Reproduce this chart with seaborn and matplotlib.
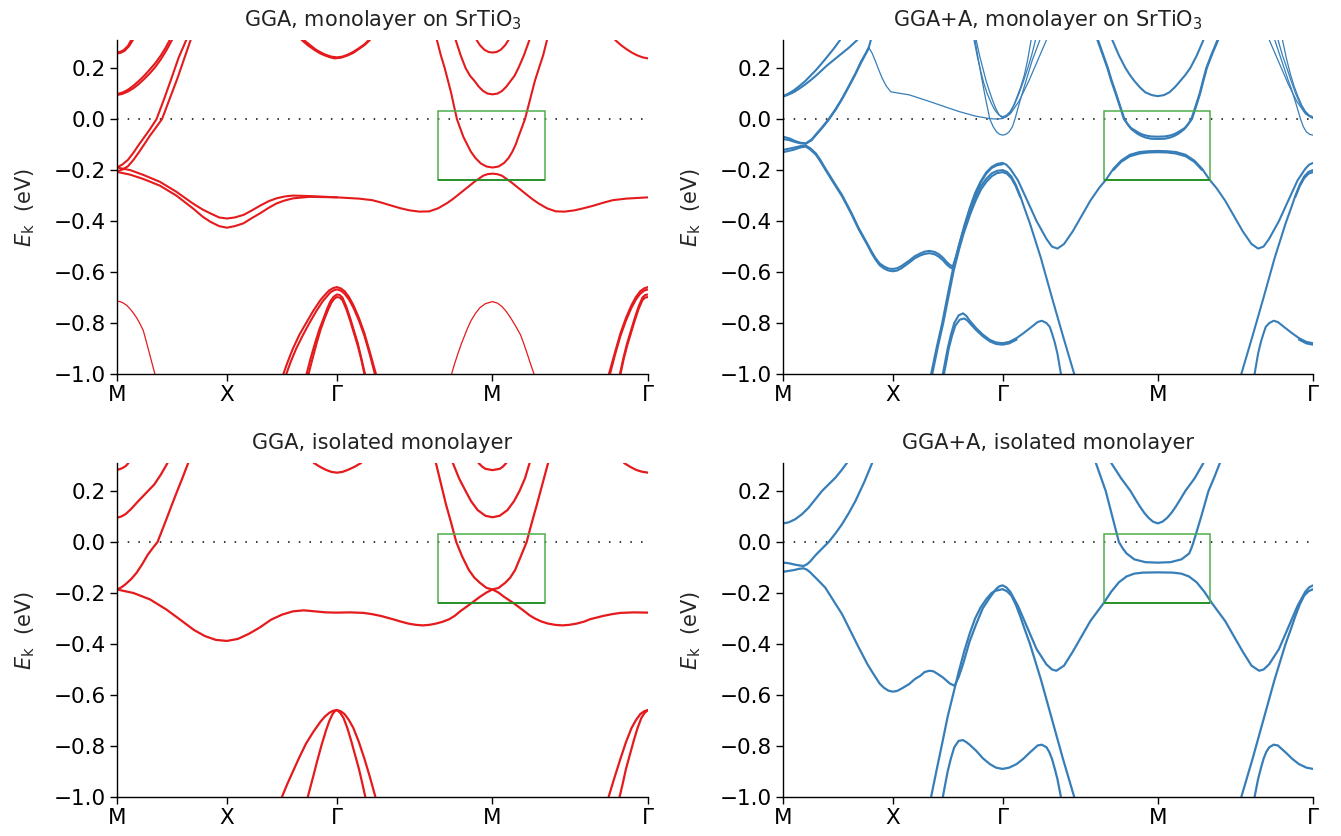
import matplotlib
matplotlib.use("Agg")
import matplotlib.pyplot as plt
from matplotlib.patches import Rectangle
from matplotlib.ticker import FuncFormatter
import pandas as pd
import seaborn as sns

sns.set_theme(style="ticks")
plt.rcParams['font.family'] = ['DejaVu Sans']
plt.rcParams['mathtext.fontset'] = 'dejavusans'
plt.rcParams['axes.edgecolor'] = 'black'
plt.rcParams['xtick.color'] = 'black'
plt.rcParams['ytick.color'] = 'black'
plt.rcParams['text.color'] = '#222222'

# k path: M - X - Gamma - M - Gamma
K_TICKS = [0.0, 1.0, 2.0, 3.414, 4.828]
K_LABELS = ['M', 'X', 'Γ', 'M', 'Γ']
E_TICKS = [-1.0, -0.8, -0.6, -0.4, -0.2, 0.0, 0.2]
BOX_K = (2.92, 3.89)
BOX_E = (-0.24, 0.03)

TITLES = ['GGA, monolayer on SrTiO$_3$', 'GGA+A, monolayer on SrTiO$_3$',
          'GGA, isolated monolayer', 'GGA+A, isolated monolayer']

# ---------------- GGA, monolayer on SrTiO3 (k, E) ----------------
a_val1 = [(0.0, -0.19), (0.12, -0.2), (0.24, -0.219), (0.39, -0.246), (0.54, -0.285), (0.69, -0.331),
          (0.78, -0.355), (0.85, -0.37), (0.93, -0.386), (1.0, -0.39), (1.07, -0.386), (1.15, -0.376),
          (1.22, -0.36), (1.3, -0.34), (1.38, -0.322), (1.45, -0.311), (1.52, -0.304), (1.6, -0.3),
          (1.75, -0.302), (2.0, -0.307), (2.2, -0.312), (2.32, -0.318), (2.4, -0.327), (2.5, -0.34),
          (2.58, -0.35), (2.66, -0.358), (2.75, -0.363), (2.84, -0.362), (2.92, -0.35), (3.0, -0.33),
          (3.05, -0.315), (3.1, -0.298), (3.175, -0.272), (3.25, -0.246), (3.33, -0.222), (3.37, -0.216),
          (3.414, -0.214), (3.458, -0.216), (3.5, -0.222), (3.58, -0.246), (3.655, -0.272), (3.73, -0.298),
          (3.78, -0.315), (3.83, -0.33), (3.91, -0.35), (3.99, -0.362), (4.07, -0.363), (4.16, -0.358),
          (4.24, -0.35), (4.33, -0.34), (4.43, -0.327), (4.51, -0.318), (4.63, -0.312), (4.828, -0.307)]
a_val2 = [(0.0, -0.207), (0.12, -0.218), (0.24, -0.235), (0.39, -0.261), (0.54, -0.3), (0.69, -0.35),
          (0.78, -0.383), (0.85, -0.403), (0.93, -0.42), (1.0, -0.426), (1.07, -0.42), (1.15, -0.409),
          (1.22, -0.39), (1.3, -0.37), (1.38, -0.348), (1.45, -0.331), (1.52, -0.32), (1.6, -0.311),
          (1.75, -0.305), (2.0, -0.307)]
a_c1 = [(0.0, -0.19), (0.05, -0.178), (0.1, -0.16), (0.15, -0.132), (0.2, -0.1), (0.25, -0.07),
        (0.3, -0.04), (0.36, 0.0), (0.43, 0.08), (0.5, 0.165), (0.56, 0.24), (0.63, 0.31)]
a_c2 = [(0.0, -0.205), (0.05, -0.198), (0.1, -0.185), (0.15, -0.16), (0.2, -0.13), (0.25, -0.098),
        (0.3, -0.065), (0.36, -0.03), (0.41, 0.0), (0.48, 0.08), (0.55, 0.16), (0.61, 0.235), (0.67, 0.31)]
a_p1 = [(0.0, 0.098), (0.05, 0.104), (0.1, 0.115), (0.15, 0.131), (0.2, 0.15), (0.25, 0.171),
        (0.3, 0.195), (0.35, 0.22), (0.4, 0.25), (0.44, 0.278), (0.48, 0.31)]
a_p2 = [(0.0, 0.094), (0.05, 0.099), (0.1, 0.108), (0.15, 0.121), (0.2, 0.138), (0.25, 0.158),
        (0.3, 0.18), (0.35, 0.205), (0.4, 0.235), (0.45, 0.27), (0.5, 0.31)]
a_p3 = [(0.0, 0.261), (0.03, 0.264), (0.06, 0.27), (0.1, 0.287), (0.13, 0.31)]
a_p4 = [(0.0, 0.257), (0.035, 0.26), (0.07, 0.268), (0.11, 0.286), (0.145, 0.31)]
a_g1 = [(1.68, 0.31), (1.74, 0.288), (1.8, 0.27), (1.85, 0.257), (1.9, 0.248), (1.94, 0.242),
        (1.98, 0.238), (2.04, 0.241), (2.1, 0.25), (2.15, 0.26), (2.2, 0.275), (2.25, 0.29), (2.3, 0.31)]
a_g2 = [(1.7, 0.31), (1.76, 0.289), (1.81, 0.272), (1.86, 0.26), (1.9, 0.252), (1.95, 0.245),
        (2.0, 0.242), (2.05, 0.245), (2.1, 0.253), (2.15, 0.264), (2.2, 0.278), (2.25, 0.293), (2.29, 0.31)]
a_g3 = [(4.53, 0.31), (4.58, 0.291), (4.63, 0.275), (4.68, 0.261), (4.73, 0.25), (4.78, 0.242),
        (4.828, 0.238)]
a_mo = [(2.909, 0.31), (2.945, 0.25), (2.98, 0.2), (3.01, 0.15), (3.04, 0.1), (3.065, 0.05), (3.091, 0.0),
        (3.12, -0.035), (3.15, -0.07), (3.185, -0.1), (3.218, -0.128), (3.26, -0.153), (3.308, -0.174),
        (3.36, -0.186), (3.414, -0.19), (3.47, -0.186), (3.52, -0.172), (3.56, -0.153), (3.595, -0.128),
        (3.625, -0.1), (3.65, -0.07), (3.68, -0.035), (3.71, 0.0), (3.74, 0.05), (3.77, 0.1), (3.8, 0.15),
        (3.837, 0.2), (3.875, 0.25), (3.91, 0.31)]
a_mm = [(3.08, 0.31), (3.125, 0.25), (3.17, 0.2), (3.21, 0.17), (3.25, 0.15), (3.29, 0.127), (3.33, 0.11),
        (3.37, 0.1), (3.414, 0.097), (3.46, 0.1), (3.5, 0.11), (3.54, 0.127), (3.58, 0.15), (3.615, 0.17),
        (3.65, 0.2), (3.7, 0.25), (3.75, 0.31)]
a_mt = [(3.27, 0.31), (3.3, 0.29), (3.34, 0.272), (3.38, 0.263), (3.414, 0.261), (3.45, 0.263),
        (3.49, 0.272), (3.53, 0.29), (3.56, 0.31)]
a_gv1 = [(1.513, -1.0), (1.55, -0.955), (1.6, -0.9), (1.66, -0.845), (1.72, -0.8), (1.785, -0.752),
         (1.85, -0.71), (1.89, -0.69), (1.93, -0.672), (1.965, -0.663), (2.0, -0.659), (2.035, -0.664),
         (2.07, -0.675), (2.11, -0.698), (2.15, -0.73), (2.2, -0.78), (2.25, -0.84), (2.3, -0.915),
         (2.355, -1.0)]
a_gv1b = [(1.54, -1.0), (1.58, -0.952), (1.63, -0.9), (1.69, -0.848), (1.75, -0.8), (1.81, -0.755),
          (1.87, -0.715), (1.91, -0.695), (1.94, -0.68), (1.97, -0.672), (2.0, -0.668), (2.035, -0.673),
          (2.07, -0.685), (2.11, -0.708), (2.15, -0.74), (2.2, -0.79), (2.25, -0.85), (2.3, -0.925),
          (2.345, -1.0)]
a_gv2 = [(1.724, -1.0), (1.76, -0.94), (1.8, -0.88), (1.84, -0.825), (1.88, -0.78), (1.91, -0.745),
         (1.94, -0.715), (1.97, -0.697), (2.0, -0.688), (2.025, -0.69), (2.05, -0.7), (2.085, -0.735),
         (2.12, -0.78), (2.155, -0.83), (2.19, -0.88), (2.22, -0.935), (2.255, -1.0)]
a_gv2b = [(1.742, -1.0), (1.778, -0.94), (1.815, -0.88), (1.85, -0.828), (1.89, -0.78), (1.92, -0.748),
          (1.95, -0.72), (1.975, -0.705), (2.0, -0.698), (2.025, -0.7), (2.05, -0.71), (2.085, -0.745),
          (2.12, -0.79), (2.155, -0.84), (2.19, -0.89), (2.22, -0.94), (2.25, -1.0)]
a_ge1 = [(4.473, -1.0), (4.528, -0.915), (4.578, -0.84), (4.628, -0.78), (4.678, -0.73), (4.718, -0.698),
         (4.758, -0.675), (4.793, -0.664), (4.828, -0.659)]
a_ge1b = [(4.483, -1.0), (4.528, -0.925), (4.578, -0.85), (4.628, -0.79), (4.678, -0.74),
          (4.718, -0.708), (4.758, -0.685), (4.793, -0.673), (4.828, -0.668)]
a_ge2 = [(4.573, -1.0), (4.606, -0.935), (4.638, -0.88), (4.673, -0.83), (4.708, -0.78), (4.743, -0.735),
         (4.778, -0.7), (4.803, -0.69), (4.828, -0.688)]
a_ge2b = [(4.578, -1.0), (4.608, -0.94), (4.638, -0.89), (4.673, -0.84), (4.708, -0.79),
          (4.743, -0.745), (4.778, -0.71), (4.803, -0.7), (4.828, -0.698)]
a_low0 = [(0.0, -0.714), (0.03, -0.716), (0.06, -0.722), (0.09, -0.731), (0.12, -0.745), (0.15, -0.761),
          (0.18, -0.78), (0.21, -0.803), (0.24, -0.83), (0.29, -0.91), (0.345, -1.0)]
a_lowm = [(3.042, -1.0), (3.07, -0.96), (3.1, -0.92), (3.13, -0.883), (3.163, -0.847), (3.19, -0.818),
          (3.22, -0.79), (3.26, -0.762), (3.3, -0.74), (3.35, -0.724), (3.414, -0.716), (3.46, -0.722),
          (3.5, -0.735), (3.54, -0.755), (3.58, -0.78), (3.625, -0.812), (3.67, -0.847), (3.7, -0.882),
          (3.73, -0.92), (3.76, -0.96), (3.792, -1.0)]

# ---------------- GGA+A, monolayer on SrTiO3 ----------------
b_val1 = [(0.0, -0.121), (0.1, -0.112), (0.16, -0.106), (0.208, -0.104), (0.25, -0.115), (0.3, -0.135),
          (0.34, -0.16), (0.385, -0.193), (0.46, -0.245), (0.538, -0.298), (0.62, -0.365), (0.69, -0.428),
          (0.77, -0.49), (0.81, -0.522), (0.844, -0.546), (0.88, -0.566), (0.92, -0.578), (0.96, -0.586),
          (1.0, -0.588), (1.04, -0.585), (1.08, -0.576), (1.15, -0.555), (1.2, -0.538), (1.25, -0.527),
          (1.29, -0.52), (1.333, -0.517), (1.38, -0.521), (1.42, -0.53), (1.46, -0.545), (1.49, -0.56),
          (1.52, -0.572), (1.547, -0.578), (1.575, -0.54), (1.6, -0.5), (1.65, -0.42), (1.7, -0.35),
          (1.75, -0.29), (1.8, -0.245), (1.85, -0.21), (1.9, -0.188), (1.95, -0.176), (2.0, -0.172),
          (2.035, -0.179), (2.07, -0.195), (2.14, -0.24), (2.22, -0.315), (2.31, -0.4), (2.4, -0.47),
          (2.45, -0.5), (2.5, -0.508), (2.56, -0.49), (2.64, -0.44), (2.72, -0.38), (2.8, -0.32),
          (2.88, -0.27), (2.94, -0.239), (3.01, -0.195), (3.08, -0.163), (3.16, -0.14), (3.25, -0.129),
          (3.33, -0.126), (3.414, -0.125), (3.498, -0.126), (3.578, -0.129), (3.668, -0.14), (3.748, -0.163),
          (3.818, -0.195), (3.888, -0.239), (3.948, -0.27), (4.028, -0.32), (4.108, -0.38), (4.188, -0.44),
          (4.268, -0.49), (4.328, -0.508), (4.378, -0.5), (4.428, -0.47), (4.518, -0.4), (4.608, -0.315),
          (4.688, -0.24), (4.758, -0.195), (4.793, -0.179), (4.828, -0.172)]
b_val2 = [(0.0, -0.13), (0.1, -0.12), (0.16, -0.111), (0.208, -0.108), (0.25, -0.12), (0.3, -0.14),
          (0.34, -0.166), (0.385, -0.198), (0.46, -0.25), (0.538, -0.303), (0.62, -0.37), (0.69, -0.433),
          (0.77, -0.495), (0.81, -0.528), (0.844, -0.552), (0.88, -0.573), (0.92, -0.586), (0.96, -0.594),
          (1.0, -0.597), (1.04, -0.594), (1.08, -0.585), (1.15, -0.563), (1.2, -0.546), (1.25, -0.535),
          (1.29, -0.529), (1.333, -0.526), (1.38, -0.53), (1.42, -0.54), (1.46, -0.555), (1.49, -0.57),
          (1.52, -0.581), (1.547, -0.587), (1.575, -0.55), (1.6, -0.51), (1.65, -0.43), (1.7, -0.36),
          (1.75, -0.298), (1.8, -0.25), (1.85, -0.215), (1.9, -0.192), (1.95, -0.181), (2.0, -0.177)]
b_val3 = [(3.01, -0.2), (3.08, -0.168), (3.16, -0.146), (3.25, -0.135), (3.33, -0.131), (3.414, -0.13),
          (3.498, -0.131), (3.578, -0.135), (3.668, -0.146), (3.748, -0.168), (3.818, -0.2)]
b_c1 = [(0.0, -0.069), (0.06, -0.076), (0.11, -0.086), (0.16, -0.093), (0.208, -0.095), (0.26, -0.08),
        (0.3, -0.06), (0.36, -0.03), (0.416, 0.0), (0.48, 0.04), (0.538, 0.081), (0.6, 0.13),
        (0.66, 0.179), (0.71, 0.225), (0.752, 0.257), (0.783, 0.283), (0.8, 0.31)]
b_c2 = [(0.0, -0.078), (0.06, -0.083), (0.11, -0.09), (0.16, -0.095), (0.208, -0.097), (0.26, -0.083),
        (0.3, -0.063), (0.36, -0.033), (0.416, -0.003), (0.48, 0.037), (0.538, 0.078), (0.6, 0.127),
        (0.66, 0.176), (0.71, 0.22), (0.752, 0.254), (0.783, 0.279)]
b_p1 = [(0.0, 0.09), (0.05, 0.1), (0.1, 0.113), (0.15, 0.13), (0.2, 0.148), (0.25, 0.17), (0.3, 0.192),
        (0.35, 0.217), (0.4, 0.243), (0.46, 0.275), (0.52, 0.31)]
b_p2 = [(0.0, 0.088), (0.05, 0.096), (0.1, 0.106), (0.15, 0.12), (0.2, 0.135), (0.25, 0.152),
        (0.3, 0.17), (0.4, 0.21), (0.5, 0.245), (0.6, 0.28), (0.676, 0.31)]
b_mo1 = [(2.864, 0.31), (2.91, 0.255), (2.955, 0.2), (2.99, 0.15), (3.03, 0.1), (3.07, 0.048),
         (3.106, 0.0), (3.14, -0.02), (3.17, -0.035), (3.227, -0.05), (3.26, -0.058), (3.3, -0.064),
         (3.35, -0.068), (3.414, -0.069), (3.48, -0.068), (3.53, -0.064), (3.57, -0.058), (3.604, -0.05),
         (3.66, -0.035), (3.69, -0.02), (3.725, 0.0), (3.762, 0.048), (3.8, 0.1), (3.83, 0.15),
         (3.861, 0.2), (3.91, 0.255), (3.964, 0.31)]
b_mo2 = [(2.87, 0.31), (2.915, 0.255), (2.96, 0.2), (2.995, 0.15), (3.035, 0.1), (3.075, 0.046),
         (3.11, 0.0), (3.145, -0.024), (3.175, -0.04), (3.23, -0.058), (3.265, -0.066), (3.3, -0.072),
         (3.35, -0.077), (3.414, -0.078), (3.48, -0.077), (3.53, -0.072), (3.565, -0.066), (3.6, -0.058),
         (3.655, -0.04), (3.685, -0.024), (3.72, 0.0), (3.755, 0.046), (3.795, 0.1), (3.825, 0.15),
         (3.856, 0.2), (3.905, 0.255), (3.958, 0.31)]
b_mm = [(3.0, 0.31), (3.06, 0.25), (3.12, 0.2), (3.16, 0.173), (3.2, 0.15), (3.25, 0.125), (3.3, 0.105),
        (3.36, 0.094), (3.414, 0.09), (3.47, 0.094), (3.52, 0.105), (3.57, 0.125), (3.62, 0.15),
        (3.665, 0.173), (3.71, 0.2), (3.77, 0.25), (3.83, 0.31)]
b_s = [(1.349, -1.0), (1.4, -0.895), (1.45, -0.8), (1.5, -0.69), (1.547, -0.59), (1.6, -0.5), (1.64, -0.44),
       (1.7, -0.365), (1.75, -0.31), (1.8, -0.265), (1.85, -0.235), (1.9, -0.213), (1.95, -0.203),
       (2.0, -0.2), (2.04, -0.207), (2.08, -0.225), (2.12, -0.257), (2.16, -0.3), (2.2, -0.35),
       (2.25, -0.41), (2.35, -0.546), (2.45, -0.7), (2.55, -0.85), (2.653, -1.0)]
b_s2 = [(1.36, -1.0), (1.41, -0.895), (1.46, -0.8), (1.51, -0.692), (1.555, -0.595), (1.605, -0.51),
        (1.645, -0.45), (1.705, -0.374), (1.755, -0.32), (1.805, -0.275), (1.855, -0.245), (1.905, -0.223),
        (1.95, -0.212), (2.0, -0.208), (2.04, -0.214), (2.08, -0.232), (2.12, -0.263), (2.16, -0.305)]
b_sr = [(4.175, -1.0), (4.278, -0.85), (4.378, -0.7), (4.478, -0.546), (4.578, -0.41), (4.628, -0.35),
        (4.668, -0.3), (4.708, -0.257), (4.748, -0.225), (4.788, -0.207), (4.828, -0.2)]
b_sr2 = [(4.668, -0.305), (4.708, -0.263), (4.748, -0.232), (4.788, -0.214), (4.828, -0.208)]
b_bb = [(1.456, -1.0), (1.48, -0.945), (1.5, -0.9), (1.53, -0.845), (1.56, -0.8), (1.6, -0.77),
        (1.64, -0.762), (1.67, -0.772), (1.7, -0.79), (1.76, -0.82), (1.82, -0.845), (1.884, -0.866),
        (1.94, -0.876), (2.0, -0.879), (2.06, -0.874), (2.128, -0.859), (2.19, -0.84), (2.25, -0.82),
        (2.32, -0.796), (2.358, -0.791), (2.4, -0.8), (2.43, -0.815), (2.45, -0.84), (2.475, -0.875),
        (2.5, -0.92), (2.532, -1.0)]
b_bb2 = [(1.466, -1.0), (1.49, -0.948), (1.51, -0.9), (1.54, -0.85), (1.57, -0.81), (1.61, -0.787),
         (1.65, -0.782), (1.68, -0.79), (1.7, -0.8), (1.76, -0.828), (1.82, -0.852), (1.884, -0.872),
         (1.94, -0.882), (2.0, -0.885), (2.06, -0.88), (2.128, -0.865)]
b_bbr = [(4.296, -1.0), (4.328, -0.92), (4.353, -0.875), (4.378, -0.84), (4.398, -0.815), (4.43, -0.8),
         (4.47, -0.791), (4.508, -0.796), (4.578, -0.82), (4.638, -0.84), (4.7, -0.859), (4.768, -0.874),
         (4.828, -0.879)]
b_bbr2 = [(4.7, -0.865), (4.768, -0.88), (4.828, -0.885)]
b_tx = [(0.783, 0.279), (0.81, 0.26), (0.844, 0.225), (0.875, 0.19), (0.905, 0.159), (0.94, 0.13),
        (0.982, 0.107), (1.05, 0.102), (1.15, 0.095), (1.3, 0.074), (1.45, 0.052), (1.6, 0.03),
        (1.75, 0.012), (1.88, 0.002), (1.95, 0.0), (2.0, 0.002), (2.07, 0.02), (2.15, 0.07),
        (2.24, 0.15), (2.32, 0.23), (2.4, 0.31)]
b_t1 = [(1.74, 0.31), (1.77, 0.245), (1.8, 0.19), (1.83, 0.14), (1.86, 0.1), (1.9, 0.06), (1.93, 0.035),
        (1.965, 0.017), (2.0, 0.009), (2.035, 0.015), (2.07, 0.03), (2.1, 0.053), (2.13, 0.085),
        (2.165, 0.125), (2.2, 0.175), (2.23, 0.235), (2.26, 0.31)]
b_t2 = [(1.76, 0.31), (1.79, 0.25), (1.82, 0.2), (1.85, 0.15), (1.88, 0.11), (1.91, 0.072), (1.94, 0.04),
        (1.97, 0.016), (2.0, 0.004), (2.035, 0.009), (2.07, 0.025), (2.11, 0.058), (2.15, 0.1),
        (2.19, 0.148), (2.23, 0.2), (2.265, 0.25), (2.3, 0.31)]
b_t3 = [(1.75, 0.31), (1.78, 0.232), (1.81, 0.16), (1.85, 0.07), (1.884, 0.0), (1.915, -0.03),
        (1.945, -0.05), (1.97, -0.059), (2.0, -0.063), (2.03, -0.06), (2.06, -0.05), (2.09, -0.03),
        (2.113, 0.0), (2.155, 0.065), (2.2, 0.13), (2.27, 0.23), (2.34, 0.31)]
b_te1 = [(4.55, 0.31), (4.585, 0.24), (4.62, 0.18), (4.655, 0.13), (4.69, 0.09), (4.725, 0.055),
         (4.76, 0.03), (4.795, 0.015), (4.828, 0.009)]
b_te2 = [(4.51, 0.31), (4.55, 0.25), (4.59, 0.2), (4.63, 0.148), (4.67, 0.1), (4.71, 0.06), (4.75, 0.03),
         (4.79, 0.012), (4.828, 0.004)]
b_te3 = [(4.48, 0.31), (4.55, 0.22), (4.6, 0.155), (4.63, 0.12), (4.67, 0.065), (4.715, 0.0),
         (4.74, -0.03), (4.768, -0.05), (4.798, -0.06), (4.828, -0.063)]
b_tex = [(4.43, 0.31), (4.51, 0.23), (4.6, 0.14), (4.68, 0.07), (4.76, 0.02), (4.828, 0.002)]

# ---------------- GGA, isolated monolayer ----------------
c_val = [(0.0, -0.186), (0.15, -0.2), (0.3, -0.225), (0.45, -0.265), (0.57, -0.303), (0.7, -0.345),
         (0.8, -0.369), (0.9, -0.384), (1.0, -0.388), (1.1, -0.38), (1.2, -0.36), (1.3, -0.335),
         (1.4, -0.305), (1.5, -0.285), (1.6, -0.272), (1.7, -0.268), (1.8, -0.272), (1.9, -0.276),
         (2.0, -0.277), (2.12, -0.276), (2.24, -0.278), (2.32, -0.283), (2.4, -0.29), (2.51, -0.303),
         (2.58, -0.312), (2.65, -0.32), (2.72, -0.325), (2.78, -0.327), (2.84, -0.325), (2.9, -0.32),
         (2.96, -0.313), (3.02, -0.303), (3.07, -0.29), (3.12, -0.272), (3.21, -0.244), (3.3, -0.215),
         (3.36, -0.198), (3.414, -0.186), (3.468, -0.198), (3.52, -0.215), (3.6, -0.238), (3.7, -0.27),
         (3.75, -0.287), (3.8, -0.3), (3.86, -0.312), (3.92, -0.32), (3.985, -0.325), (4.05, -0.327),
         (4.11, -0.325), (4.18, -0.32), (4.25, -0.312), (4.3, -0.303), (4.42, -0.29), (4.5, -0.283),
         (4.58, -0.278), (4.7, -0.276), (4.828, -0.277)]
c_c1 = [(0.0, -0.186), (0.04, -0.178), (0.08, -0.165), (0.13, -0.145), (0.18, -0.12), (0.23, -0.087),
        (0.28, -0.05), (0.325, -0.024), (0.369, 0.0), (0.41, 0.045), (0.45, 0.09), (0.49, 0.135),
        (0.53, 0.18), (0.59, 0.245), (0.648, 0.31)]
c_p1 = [(0.0, 0.095), (0.04, 0.1), (0.08, 0.11), (0.13, 0.13), (0.18, 0.154), (0.26, 0.19), (0.34, 0.226),
        (0.4, 0.265), (0.46, 0.31)]
c_p3 = [(0.0, 0.282), (0.05, 0.29), (0.08, 0.298), (0.105, 0.31)]
c_g1 = [(1.79, 0.31), (1.85, 0.294), (1.9, 0.283), (1.95, 0.275), (2.0, 0.272), (2.05, 0.275), (2.1, 0.283),
        (2.16, 0.295), (2.22, 0.31)]
c_g2 = [(4.61, 0.31), (4.67, 0.294), (4.72, 0.283), (4.77, 0.276), (4.828, 0.272)]
c_mo = [(2.9, 0.31), (2.945, 0.23), (2.99, 0.15), (3.04, 0.073), (3.085, 0.0), (3.14, -0.058),
        (3.2, -0.11), (3.25, -0.14), (3.3, -0.16), (3.36, -0.18), (3.414, -0.186), (3.47, -0.18),
        (3.53, -0.16), (3.575, -0.14), (3.62, -0.11), (3.67, -0.058), (3.725, 0.0), (3.77, 0.073),
        (3.82, 0.15), (3.87, 0.23), (3.92, 0.31)]
c_mm = [(3.054, 0.31), (3.11, 0.25), (3.17, 0.2), (3.22, 0.16), (3.28, 0.125), (3.35, 0.103),
        (3.414, 0.097), (3.48, 0.103), (3.55, 0.125), (3.61, 0.16), (3.66, 0.2), (3.71, 0.25), (3.752, 0.31)]
c_mt = [(3.287, 0.31), (3.32, 0.296), (3.35, 0.287), (3.414, 0.282), (3.48, 0.287), (3.51, 0.296),
        (3.54, 0.31)]
c_gv1 = [(1.5, -1.0), (1.55, -0.948), (1.6, -0.9), (1.66, -0.843), (1.72, -0.79), (1.785, -0.745),
         (1.85, -0.705), (1.89, -0.685), (1.93, -0.67), (1.965, -0.662), (2.0, -0.659), (2.035, -0.664),
         (2.07, -0.675), (2.11, -0.699), (2.15, -0.73), (2.2, -0.785), (2.25, -0.85), (2.3, -0.922),
         (2.35, -1.0)]
c_gv2 = [(1.735, -1.0), (1.78, -0.927), (1.82, -0.86), (1.86, -0.797), (1.9, -0.74), (1.93, -0.703),
         (1.96, -0.675), (1.98, -0.664), (2.0, -0.659), (2.03, -0.67), (2.06, -0.69), (2.095, -0.73),
         (2.13, -0.78), (2.165, -0.835), (2.2, -0.89), (2.23, -0.945), (2.258, -1.0)]
c_ge1 = [(4.47, -1.0), (4.525, -0.922), (4.578, -0.85), (4.628, -0.785), (4.678, -0.73), (4.718, -0.699),
         (4.758, -0.675), (4.793, -0.664), (4.828, -0.659)]
c_ge2 = [(4.57, -1.0), (4.6, -0.945), (4.628, -0.89), (4.663, -0.835), (4.698, -0.78), (4.733, -0.73),
         (4.768, -0.69), (4.798, -0.67), (4.828, -0.659)]

# ---------------- GGA+A, isolated monolayer ----------------
d_val = [(0.0, -0.117), (0.1, -0.11), (0.15, -0.105), (0.187, -0.103), (0.22, -0.109), (0.25, -0.12),
         (0.32, -0.15), (0.385, -0.179), (0.46, -0.23), (0.538, -0.283), (0.61, -0.345), (0.69, -0.414),
         (0.77, -0.48), (0.81, -0.508), (0.844, -0.531), (0.88, -0.555), (0.92, -0.572), (0.96, -0.583),
         (1.0, -0.587), (1.04, -0.584), (1.08, -0.575), (1.15, -0.557), (1.2, -0.538), (1.25, -0.525),
         (1.29, -0.51), (1.333, -0.505), (1.37, -0.507), (1.4, -0.515), (1.456, -0.531), (1.52, -0.555),
         (1.563, -0.564), (1.6, -0.53), (1.64, -0.479), (1.7, -0.39), (1.76, -0.322), (1.82, -0.26),
         (1.884, -0.218), (1.94, -0.185), (1.97, -0.174), (2.0, -0.17), (2.035, -0.178), (2.07, -0.195),
         (2.14, -0.25), (2.22, -0.33), (2.31, -0.42), (2.4, -0.48), (2.45, -0.5), (2.49, -0.505),
         (2.56, -0.485), (2.64, -0.43), (2.72, -0.37), (2.8, -0.31), (2.86, -0.275), (2.92, -0.24),
         (2.99, -0.195), (3.06, -0.158), (3.13, -0.135), (3.2, -0.124), (3.28, -0.12), (3.414, -0.119),
         (3.548, -0.12), (3.628, -0.124), (3.698, -0.135), (3.768, -0.158), (3.838, -0.195),
         (3.908, -0.24), (3.968, -0.275), (4.028, -0.31), (4.108, -0.37), (4.188, -0.43), (4.268, -0.485),
         (4.338, -0.505), (4.378, -0.5), (4.428, -0.48), (4.518, -0.42), (4.608, -0.33), (4.688, -0.25),
         (4.758, -0.195), (4.793, -0.178), (4.828, -0.17)]
d_c = [(0.0, -0.081), (0.05, -0.083), (0.1, -0.088), (0.15, -0.092), (0.187, -0.094), (0.22, -0.087),
       (0.25, -0.075), (0.3, -0.05), (0.36, -0.024), (0.416, 0.0), (0.48, 0.035), (0.538, 0.07),
       (0.6, 0.114), (0.66, 0.161), (0.74, 0.235), (0.813, 0.311)]
d_p = [(0.0, 0.073), (0.05, 0.077), (0.11, 0.089), (0.17, 0.108), (0.232, 0.134), (0.29, 0.165),
       (0.355, 0.2), (0.42, 0.228), (0.477, 0.252), (0.53, 0.28), (0.584, 0.311)]
d_s = [(1.349, -1.0), (1.4, -0.893), (1.45, -0.79), (1.5, -0.685), (1.563, -0.575), (1.6, -0.51),
       (1.65, -0.43), (1.7, -0.36), (1.75, -0.3), (1.8, -0.257), (1.85, -0.225), (1.9, -0.2),
       (1.93, -0.192), (2.0, -0.185), (2.04, -0.193), (2.08, -0.21), (2.12, -0.245), (2.16, -0.29),
       (2.2, -0.34), (2.25, -0.4), (2.35, -0.54), (2.45, -0.695), (2.55, -0.85), (2.653, -1.0)]
d_sr = [(4.175, -1.0), (4.278, -0.85), (4.378, -0.695), (4.478, -0.54), (4.578, -0.4), (4.628, -0.34),
        (4.668, -0.29), (4.708, -0.245), (4.748, -0.21), (4.788, -0.193), (4.828, -0.185)]
d_bb = [(1.456, -1.0), (1.48, -0.945), (1.5, -0.9), (1.53, -0.848), (1.56, -0.805), (1.6, -0.78),
        (1.64, -0.777), (1.67, -0.785), (1.7, -0.795), (1.76, -0.819), (1.82, -0.848), (1.884, -0.871),
        (1.94, -0.885), (2.0, -0.89), (2.06, -0.885), (2.128, -0.871), (2.19, -0.85), (2.25, -0.825),
        (2.32, -0.798), (2.358, -0.795), (2.4, -0.805), (2.425, -0.823), (2.45, -0.85), (2.475, -0.888),
        (2.5, -0.93), (2.532, -1.0)]
d_bbr = [(4.296, -1.0), (4.328, -0.93), (4.353, -0.888), (4.378, -0.85), (4.403, -0.823), (4.43, -0.805),
         (4.47, -0.795), (4.508, -0.798), (4.578, -0.825), (4.638, -0.85), (4.7, -0.871), (4.768, -0.885),
         (4.828, -0.89)]
d_mo = [(2.85, 0.31), (2.895, 0.255), (2.94, 0.2), (2.97, 0.15), (3.0, 0.1), (3.03, 0.05), (3.06, 0.0),
        (3.095, -0.025), (3.13, -0.045), (3.2, -0.068), (3.3, -0.079), (3.414, -0.081), (3.53, -0.079),
        (3.63, -0.068), (3.7, -0.045), (3.72, -0.025), (3.74, 0.0), (3.775, 0.05), (3.81, 0.1),
        (3.843, 0.15), (3.876, 0.2), (3.93, 0.255), (3.98, 0.31)]
d_mm = [(2.99, 0.31), (3.035, 0.28), (3.08, 0.25), (3.166, 0.2), (3.21, 0.168), (3.25, 0.14),
        (3.29, 0.115), (3.33, 0.095), (3.37, 0.08), (3.414, 0.073), (3.458, 0.08), (3.5, 0.095),
        (3.54, 0.115), (3.58, 0.14), (3.62, 0.168), (3.665, 0.2), (3.75, 0.25), (3.79, 0.28), (3.83, 0.31)]

RED = '#e41a1c'
BLUE = '#377eb8'
GREEN = '#4daf4a'
DARK_GREEN = '#1f8a1f'

panels = [
    dict(title=TITLES[0], color=RED, lw=1.5,
         thick=[a_val1, a_val2, a_c1, a_c2, a_p1, a_p2, a_p3, a_p4, a_g1, a_g2, a_g3, a_mo, a_mm, a_mt,
                a_gv1, a_gv1b, a_gv2, a_gv2b, a_ge1, a_ge1b, a_ge2, a_ge2b],
         thin=[a_low0, a_lowm]),
    dict(title=TITLES[1], color=BLUE, lw=1.5,
         thick=[b_val1, b_val2, b_val3, b_c1, b_c2, b_p1, b_p2, b_mo1, b_mo2, b_mm, b_s, b_s2, b_sr, b_sr2,
                b_bb, b_bb2, b_bbr, b_bbr2],
         thin=[b_tx, b_t1, b_t2, b_t3, b_te1, b_te2, b_te3, b_tex]),
    dict(title=TITLES[2], color=RED, lw=1.6,
         thick=[c_val, c_c1, c_p1, c_p3, c_g1, c_g2, c_mo, c_mm, c_mt, c_gv1, c_gv2, c_ge1, c_ge2],
         thin=[]),
    dict(title=TITLES[3], color=BLUE, lw=1.6,
         thick=[d_val, d_c, d_p, d_s, d_sr, d_bb, d_bbr, d_mo, d_mm],
         thin=[]),
]


def to_frame(bands):
    rows = []
    for i, pts in enumerate(bands):
        for k, e in pts:
            rows.append((i, k, e))
    return pd.DataFrame(rows, columns=['band', 'k', 'E'])


fig = plt.figure(figsize=(13.41, 8.36), dpi=100)
positions = [[0.0872, 0.5526, 0.396, 0.3995], [0.5839, 0.5526, 0.3952, 0.3995],
             [0.0872, 0.0467, 0.396, 0.3995], [0.5839, 0.0467, 0.3952, 0.3995]]

fmt = FuncFormatter(lambda v, p: f"{v:.1f}".replace('-', '\u2212'))

for pos, pnl in zip(positions, panels):
    ax = fig.add_axes(pos)
    ax.axhline(0.0, color='black', lw=1.1, ls=(0, (1, 6)), zorder=1)
    sns.lineplot(data=to_frame(pnl['thick']), x='k', y='E', units='band', estimator=None, sort=False,
                 color=pnl['color'], lw=pnl['lw'], ax=ax, legend=False, zorder=2)
    if pnl['thin']:
        sns.lineplot(data=to_frame(pnl['thin']), x='k', y='E', units='band', estimator=None, sort=False,
                     color=pnl['color'], lw=0.9, ax=ax, legend=False, zorder=2)
    # highlight box around the M point (bottom edge drawn darker as in the original)
    ax.add_patch(Rectangle((BOX_K[0], BOX_E[0]), BOX_K[1] - BOX_K[0], BOX_E[1] - BOX_E[0],
                           fill=False, edgecolor=GREEN, lw=1.1, zorder=3))
    ax.hlines(BOX_E[0], BOX_K[0], BOX_K[1], color=DARK_GREEN, lw=1.2, zorder=3)
    ax.set_xlim(K_TICKS[0], K_TICKS[-1])
    ax.set_ylim(-1.0, 0.31)
    ax.set_xticks(K_TICKS)
    ax.set_xticklabels(K_LABELS)
    ax.set_yticks(E_TICKS)
    ax.yaxis.set_major_formatter(fmt)
    ax.tick_params(direction='out', length=5, width=1, labelsize=15.5, pad=3)
    ax.set_xlabel('')
    ax.set_ylabel(r'$E_\mathrm{k}$  (eV)', fontsize=15, labelpad=12)
    ax.set_title(pnl['title'], fontsize=15, pad=10)
    for s in ['left', 'bottom']:
        ax.spines[s].set_linewidth(1.0)
    sns.despine(ax=ax)

fig.savefig('out.png', dpi=100)
